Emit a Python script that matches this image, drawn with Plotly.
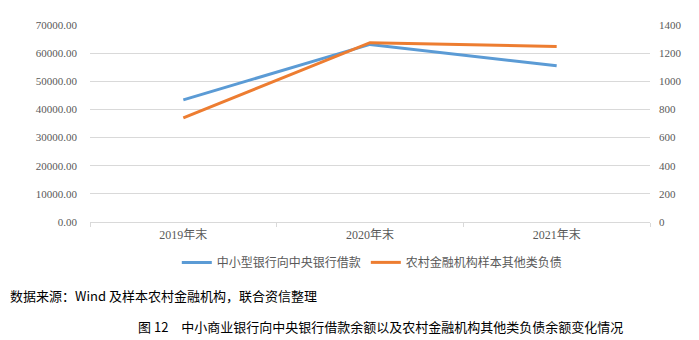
import plotly.graph_objects as go

categories = ["2019年末", "2020年末", "2021年末"]
loans_to_central_bank = [43400, 63100, 55500]
other_liabilities = [740, 1274, 1248]
series_names = ["中小型银行向中央银行借款", "农村金融机构样本其他类负债"]

SERIF = "'Liberation Serif', 'Times New Roman', 'Noto Sans CJK SC', serif"
CJK = "'Noto Sans CJK SC', 'Liberation Serif', serif"
fig = go.Figure()
fig.add_trace(go.Scatter(x=categories, y=loans_to_central_bank, mode="lines",
                         name=series_names[0],
                         line=dict(color="#5B9BD5", width=3), yaxis="y"))
fig.add_trace(go.Scatter(x=categories, y=other_liabilities, mode="lines",
                         name=series_names[1],
                         line=dict(color="#ED7D31", width=3), yaxis="y2"))

fig.update_layout(
    width=699, height=340,
    margin=dict(l=90, r=49, t=25, b=118),
    paper_bgcolor="white", plot_bgcolor="white",
    font=dict(family=SERIF, size=11, color="#595959"),
    showlegend=True,
    legend=dict(orientation="h", x=0.155, xanchor="left", y=-0.205, yanchor="middle",
                font=dict(size=12, color="#595959", family=CJK),
                itemwidth=30, bgcolor="rgba(0,0,0,0)"),
    xaxis=dict(type="category", showgrid=False, showline=True, linecolor="#D9D9D9",
               ticks="outside", tickson="boundaries", ticklen=4, tickcolor="#D9D9D9",
               tickfont=dict(size=12, color="#595959", family=SERIF), range=[-0.5, 2.5],
               ticklabelstandoff=2),
    yaxis=dict(range=[0, 70000], dtick=10000, tickformat=".2f", showgrid=True,
               gridcolor="#D9D9D9", gridwidth=1, zeroline=False, showline=False,
               ticks="", tickfont=dict(size=11, color="#595959", family=SERIF),
               ticklabelstandoff=12),
    yaxis2=dict(range=[0, 1400], dtick=200, overlaying="y", side="right", showgrid=False,
                zeroline=False, showline=False, ticks="",
                tickfont=dict(size=11, color="#595959", family=SERIF),
                ticklabelstandoff=8),
    annotations=[
        dict(text="数据来源：Wind 及样本农村金融机构，联合资信整理", xref="paper", yref="paper",
             x=-90/560 + 8/560, y=-(295-222)/197, xanchor="left", yanchor="middle",
             showarrow=False, font=dict(size=13, color="#000000", family=CJK)),
        dict(text="图 12　中小商业银行向中央银行借款余额以及农村金融机构其他类负债余额变化情况",
             xref="paper", yref="paper", x=(380-90)/560, y=-(326-222)/197,
             xanchor="center", yanchor="middle", showarrow=False,
             font=dict(size=13, color="#000000", family=CJK)),
    ],
)
fig.write_html("out.html")
